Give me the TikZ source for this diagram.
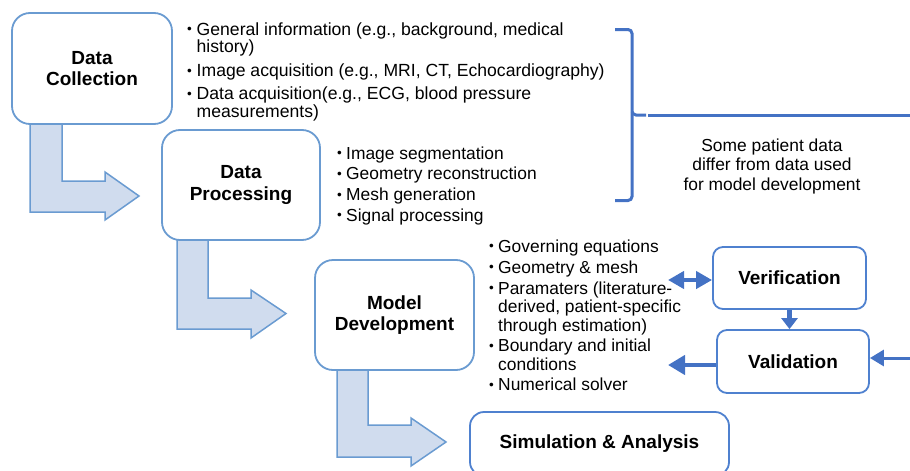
\documentclass[tikz,border=0pt]{standalone}
\usepackage{fontspec}
\setmainfont{Liberation Sans}
\usetikzlibrary{arrows.meta}
\definecolor{boxblue}{HTML}{6A9BD1}
\definecolor{linkblue}{HTML}{4472C4}
\definecolor{vblue}{HTML}{4F81CF}
\definecolor{arrfill}{HTML}{D0DCEE}
\tikzset{
  bigbox/.style={draw=boxblue, line width=1.8pt, rounded corners=18pt, fill=white,
    align=center, font=\fontsize{19}{21.5}\selectfont\bfseries, inner sep=0pt},
  vbox/.style={draw=vblue, line width=1.8pt, rounded corners=10pt, fill=white,
    align=center, font=\fontsize{19}{21.5}\selectfont\bfseries, inner sep=0pt},
  bentarrow/.style={draw=boxblue, line width=1.5pt, fill=arrfill, line join=miter},
  lst/.style={inner sep=0pt, anchor=base west},
  link/.style={draw=linkblue, line width=4pt},
}
\newcommand{\bl}{\raisebox{0.12ex}{\fontsize{13.5}{13.5}\selectfont\textbullet}}
\begin{document}
\begin{tikzpicture}[x=1pt,y=-1pt]
\useasboundingbox (0,0) rectangle (910,471);
\clip (0,0) rectangle (910,471);

% bent arrows
\draw[bentarrow] (30,118) -- (30,212) -- (105,212) -- (105,220) -- (139,196) -- (105,172) -- (105,181) -- (62,181) -- (62,118) -- cycle;
\draw[bentarrow] (177,234) -- (177,329) -- (251,329) -- (251,338) -- (286,313.5) -- (251,290) -- (251,298) -- (208,298) -- (208,234) -- cycle;
\draw[bentarrow] (337,364) -- (337,457) -- (411,457) -- (411,466) -- (446,442) -- (411,418) -- (411,425) -- (368,425) -- (368,364) -- cycle;

% main boxes
\node[bigbox, minimum width=160pt, minimum height=111pt] (dc) at (92,68.5) {Data\\Collection};
\node[bigbox, minimum width=158pt, minimum height=110pt] (dp) at (241,185) {Data\\Processing};
\node[bigbox, minimum width=159pt, minimum height=110pt] (md) at (394.5,315) {Model\\Development};
\node[vbox, rounded corners=14pt, minimum width=259pt, minimum height=64pt] (sa) at (599.5,444) {Simulation \& Analysis};
\node[vbox, minimum width=153pt, minimum height=62pt] (ver) at (789.5,278) {Verification};
\node[vbox, minimum width=152pt, minimum height=63pt] (val) at (793,361.5) {Validation};

% bullet lists
\node[lst, font=\fontsize{17.6}{16.5}\selectfont] (dcl) at (187,35) {%
\begin{tabular}[t]{@{}p{9.5pt}@{}l@{}}
\bl & General information (e.g., background, medical\\
    & history)\\[6pt]
\bl & Image acquisition (e.g., MRI, CT, Echocardiography)\\[5.5pt]
\bl & Data acquisition(e.g., ECG, blood pressure\\
    & measurements)
\end{tabular}};
\node[lst, font=\fontsize{17.4}{20.7}\selectfont] (dpl) at (337,159) {%
\begin{tabular}[t]{@{}p{9pt}@{}l@{}}
\bl & Image segmentation\\
\bl & Geometry reconstruction\\
\bl & Mesh generation\\
\bl & Signal processing
\end{tabular}};
\node[lst, font=\fontsize{17.4}{18.5}\selectfont] (mdl) at (489,252) {%
\begin{tabular}[t]{@{}p{9pt}@{}l@{}}
\bl & Governing equations\\[2.5pt]
\bl & Geometry \& mesh\\[2.5pt]
\bl & Paramaters (literature-\\
    & derived, patient-specific\\
    & through estimation)\\[2pt]
\bl & Boundary and initial\\
    & conditions\\[2pt]
\bl & Numerical solver
\end{tabular}};

% note
\node[inner sep=0pt, anchor=base, font=\fontsize{17.4}{19.5}\selectfont] (note) at (772,151) {%
\begin{tabular}[t]{@{}c@{}}Some patient data\\ differ from data used\\ for model development\end{tabular}};

% brace
\draw[linkblue, line width=3pt, rounded corners=4pt] (615,29.5) -- (632,29.5) -- (632,115) -- (646,115);
\draw[linkblue, line width=3pt, rounded corners=4pt] (632,112) -- (632,200.5) -- (615,200.5);
\coordinate (btip) at (648,115);
\coordinate (redge) at (912,115);
\draw[linkblue, line width=3pt] (btip) -- (redge);

% connectors
\coordinate (mdv) at (668,280);
\coordinate (mdb) at (668,365);
\coordinate (rin) at (912,358);
\draw[link, {Triangle[length=16pt,width=17pt]}-{Triangle[length=16pt,width=17pt]}] (mdv) -- (ver.west|-mdv);
\draw[link, line width=4.5pt, -{Triangle[length=17pt,width=19pt]}] (val.west|-mdb) -- (mdb);
\draw[linkblue, line width=5.5pt, -{Triangle[length=11pt,width=16pt]}] (ver.south) -- (val.north-|ver.south);
\draw[linkblue, line width=3pt, -{Triangle[length=14pt,width=16pt]}] (rin) -- (val.east|-rin);
\end{tikzpicture}
\end{document}
